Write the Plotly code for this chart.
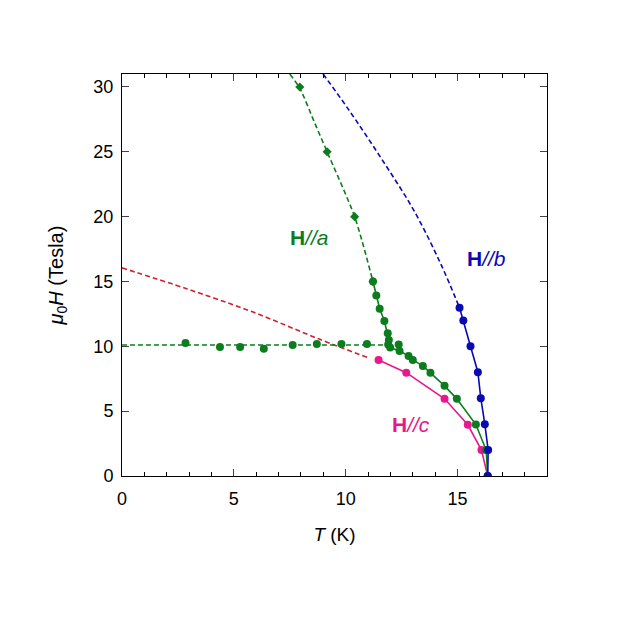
import plotly.graph_objects as go

# ---- data ----
# H // c (magenta)
c_T = [11.47, 12.71, 14.42, 15.46, 16.07, 16.35]
c_H = [8.95, 7.97, 5.95, 3.95, 2.0, 0.0]

# H // b (blue) measured points
b_T = [15.09, 15.26, 15.58, 15.91, 16.04, 16.22, 16.37, 16.35]
b_H = [12.97, 12.0, 10.0, 8.0, 6.0, 4.0, 2.0, 0.0]
# H // b fit (dashed)
bfit_T = [8.99, 10.10, 11.59, 13.08, 14.27, 15.09]
bfit_H = [31.0, 28.33, 24.49, 20.38, 16.28, 12.97]

# H // a (green) high-field diamonds
ad_T = [7.95, 9.17, 10.4, 11.22]
ad_H = [30.0, 25.0, 20.0, 15.0]
# H // a fit (dashed, upper)
afit_T = [7.5, 7.95, 8.62, 9.17, 10.4, 11.22]
afit_H = [31.0, 29.9, 27.2, 25.0, 20.0, 15.0]
# H // a main branch (solid line)
a_T = [11.22, 11.37, 11.52, 11.73, 11.88, 11.93, 11.99, 12.41, 12.81, 13.0, 13.45, 13.79, 14.42, 14.97, 15.82, 16.28, 16.35]
a_H = [15.0, 13.92, 12.9, 11.95, 11.0, 10.49, 9.9, 9.64, 9.26, 8.95, 8.49, 7.97, 6.95, 5.95, 3.97, 2.0, 0.0]
# H // a extra points near the kink
ax_T = [11.9, 12.37]
ax_H = [10.15, 10.15]
# H // a low-temperature plateau
al_T = [2.84, 4.38, 5.28, 6.34, 7.63, 8.71, 9.81, 10.95]
al_H = [10.26, 9.95, 9.95, 9.82, 10.1, 10.18, 10.18, 10.18]
al_line_T = [0.0, 12.0]
al_line_H = [10.1, 10.1]

# red dashed extrapolation
r_T = [0.0, 2.89, 5.86, 8.84, 11.0]
r_H = [16.05, 14.44, 12.64, 10.54, 9.13]

GREEN = "#0b7d1f"
BLUE = "#0a0ab4"
MAG = "#e8188c"
RED = "#d0202e"
DASH = "5px,3px"

fig = go.Figure()

fig.add_trace(go.Scatter(x=r_T, y=r_H, mode="lines", line=dict(color=RED, dash=DASH, width=1.6, shape="spline")))
fig.add_trace(go.Scatter(x=al_line_T, y=al_line_H, mode="lines", line=dict(color=GREEN, dash=DASH, width=1.4)))
fig.add_trace(go.Scatter(x=afit_T, y=afit_H, mode="lines", line=dict(color=GREEN, dash=DASH, width=1.6, shape="spline", smoothing=0.7)))
fig.add_trace(go.Scatter(x=bfit_T, y=bfit_H, mode="lines", line=dict(color=BLUE, dash=DASH, width=1.6, shape="spline")))

fig.add_trace(go.Scatter(x=c_T, y=c_H, mode="lines+markers", line=dict(color=MAG, width=1.6),
                         marker=dict(color=MAG, size=8)))
fig.add_trace(go.Scatter(x=a_T, y=a_H, mode="lines+markers", line=dict(color=GREEN, width=1.6),
                         marker=dict(color=GREEN, size=8)))
fig.add_trace(go.Scatter(x=ax_T, y=ax_H, mode="markers", marker=dict(color=GREEN, size=8)))
fig.add_trace(go.Scatter(x=al_T, y=al_H, mode="markers", marker=dict(color=GREEN, size=8)))
fig.add_trace(go.Scatter(x=ad_T, y=ad_H, mode="markers", marker=dict(color=GREEN, size=7, symbol="diamond")))
fig.add_trace(go.Scatter(x=b_T, y=b_H, mode="lines+markers", line=dict(color=BLUE, width=1.6),
                         marker=dict(color=BLUE, size=8)))

font = "Liberation Sans, Arial, sans-serif"
fig.add_annotation(x=8.4, y=18.4, text="<b>H</b><i>//a</i>", showarrow=False,
                   font=dict(family=font, size=21, color=GREEN))
fig.add_annotation(x=16.3, y=16.8, text="<b>H</b><i>//b</i>", showarrow=False,
                   font=dict(family=font, size=21, color=BLUE))
fig.add_annotation(x=12.9, y=4.0, text="<b>H</b><i>//c</i>", showarrow=False,
                   font=dict(family=font, size=21, color=MAG))

fig.update_layout(
    width=643, height=642,
    margin=dict(l=114, r=104, t=66, b=174),
    paper_bgcolor="white", plot_bgcolor="white",
    showlegend=False,
    font=dict(family=font, size=16, color="black"),
)
fig.update_xaxes(range=[0, 19], dtick=5, tick0=0, ticks="inside", ticklen=7, tickwidth=1,
                 showline=True, linecolor="black", linewidth=1, mirror="ticks",
                 showgrid=False, zeroline=False,
                 minor=dict(dtick=1, ticks="inside", ticklen=4, tickcolor="black"),
                 title=dict(text="<i>T</i> (K)", font=dict(size=19), standoff=20),
                 tickfont=dict(size=18), ticklabelstandoff=6)
fig.update_yaxes(range=[0, 31], dtick=5, tick0=0, ticks="inside", ticklen=7, tickwidth=1,
                 showline=True, linecolor="black", linewidth=1, mirror="ticks",
                 showgrid=False, zeroline=False,
                 title=dict(text="<i>μ</i><sub>0</sub><i>H</i> (Tesla)", font=dict(size=20), standoff=24),
                 tickfont=dict(size=18), ticklabelstandoff=4)

fig.write_html("out.html")
